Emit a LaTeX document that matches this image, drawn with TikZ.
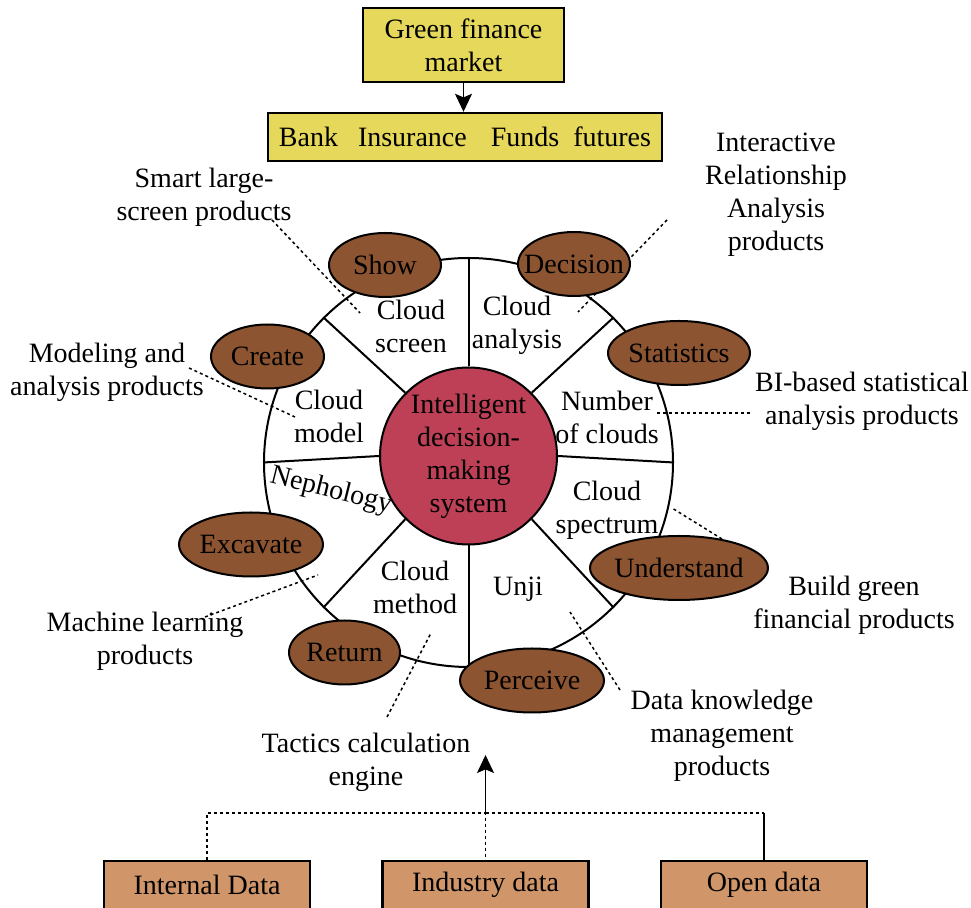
\documentclass[tikz,border=0pt]{standalone}
\usepackage{fontspec}
\setmainfont{Liberation Serif}
\usetikzlibrary{shapes.geometric,arrows.meta}

\definecolor{mktyellow}{RGB}{230,216,90}
\definecolor{srctan}{RGB}{208,150,106}
\definecolor{petal}{RGB}{140,84,48}
\definecolor{hubred}{RGB}{190,64,86}

\begin{document}
\begin{tikzpicture}[x=0.5pt,y=-0.5pt,font=\fontsize{14}{16.5}\selectfont,
    box/.style={draw,line width=1.2pt,inner sep=0pt,align=center},
    leaf/.style={ellipse,draw,line width=1pt,fill=petal,inner sep=0pt,minimum height=32pt},
    note/.style={align=center,inner sep=0pt},
    lead/.style={line width=0.75pt,dash pattern=on 1.5pt off 1.5pt},
    tip/.style={-{Stealth[length=9pt,width=8.5pt,inset=1.8pt]},line width=0.8pt}]
  \useasboundingbox (0,0) rectangle (971,908);

  % market on top
  \node[box,fill=mktyellow,minimum width=100.5pt,minimum height=37pt] (market) at (463.5,45) {Green finance\\market};
  \node[box,fill=mktyellow,minimum width=197pt,minimum height=24pt] (inst) at (465,137) {Bank\hspace{10pt}Insurance\hspace{12pt}Funds\hspace{7pt}futures};
  \draw[tip] (market.south) -- (market.south |- inst.north);

  % products round the wheel
  \node[note] (smart) at (204,197) {Smart large-\\screen products};
  \node[note] (inter) at (776,195) {Interactive\\Relationship\\Analysis\\products};
  \node[note] (model) at (107,372) {Modeling and\\analysis products};
  \node[note] (bi) at (862,401) {BI-based statistical\\analysis products};
  \node[note] (build) at (854,605) {Build green\\financial products};
  \node[note] (ml) at (145,641) {Machine learning\\products};
  \node[note] (tact) at (366,762) {Tactics calculation\\engine};
  \node[note] (dkm) at (722,736) {Data knowledge\\management\\products};

  \coordinate (smart-a) at (272,220);  \coordinate (smart-b) at (360,313);
  \coordinate (inter-a) at (667,220);  \coordinate (inter-b) at (578,312);
  \coordinate (model-a) at (189,368);  \coordinate (model-b) at (295,417);
  \coordinate (bi-a) at (750,413);     \coordinate (bi-b) at (657,413);
  \coordinate (build-a) at (722,539);  \coordinate (build-b) at (672,508);
  \coordinate (ml-a) at (205,617);     \coordinate (ml-b) at (318,575);
  \coordinate (tact-a) at (387,717);   \coordinate (tact-b) at (431,633);
  \coordinate (dkm-a) at (620,690);    \coordinate (dkm-b) at (570,612);
  \foreach \n in {smart,inter,model,bi,build,ml,tact,dkm}
    \draw[lead] (\n-a) -- (\n-b);

  % the wheel
  \node[circle,draw,line width=1pt,minimum size=204.5pt,inner sep=0pt] (ring) at (468.5,462.5) {};
  \node[circle,draw,line width=1pt,fill=hubred,minimum size=88.5pt,inner sep=0pt,align=center] (ids) at (468.5,456) {Intelligent\\decision-\\making\\system};
  \foreach \a in {0,45,...,315}
    \draw[line width=1pt] (ids.\a) -- (ring.\a);

  \node[note] (screen) at (411,326) {Cloud\\screen};
  \node[note] (analysis) at (517,325) {Cloud\\analysis};
  \node[note] (cmodel) at (329,416) {Cloud\\model};
  \node[note] (number) at (607,417) {Number\\of clouds};
  \node[note] (spectrum) at (607,510) {Cloud\\spectrum};
  \node[note] (method) at (415,587) {Cloud\\method};
  \node[note] (unji) at (518,589) {Unji};
  \node[note,rotate=-14] (neph) at (331,491) {Nephology};

  \node[leaf,minimum width=56pt,label=center:Show] (show) at (385,265) {};
  \node[leaf,minimum width=56pt,label=center:Decision] (decision) at (574,264) {};
  \node[leaf,minimum width=56.5pt,label=center:Create] (create) at (267.5,356.5) {};
  \node[leaf,minimum width=71pt,label=center:Statistics] (stats) at (679,353) {};
  \node[leaf,minimum width=72pt,label=center:Excavate] (excavate) at (251,544.5) {};
  \node[leaf,minimum width=89pt,label=center:Understand] (understand) at (679,568) {};
  \node[leaf,minimum width=55.5pt,label=center:Return] (return) at (344.5,652.5) {};
  \node[leaf,minimum width=72pt,label=center:Perceive] (perceive) at (532,680.5) {};

  % data sources
  \node[box,fill=srctan,minimum width=103pt,minimum height=24pt] (intd) at (207,885) {Internal Data};
  \node[box,fill=srctan,minimum width=103pt,minimum height=24pt] (indd) at (485.5,885) {Industry data};
  \node[box,fill=srctan,minimum width=103pt,minimum height=24pt] (opend) at (764,885) {Open data};
  \coordinate (hub) at (485.5,813);
  \coordinate (engine) at (485.5,755);
  \draw[lead] (intd.north) |- (hub) -- (indd.north);
  \draw[lead] (hub) -- (hub -| opend.north);
  \draw[line width=0.75pt] (hub -| opend.north) -- (opend.north);
  \draw[tip] (hub) -- (engine);
\end{tikzpicture}
\end{document}
